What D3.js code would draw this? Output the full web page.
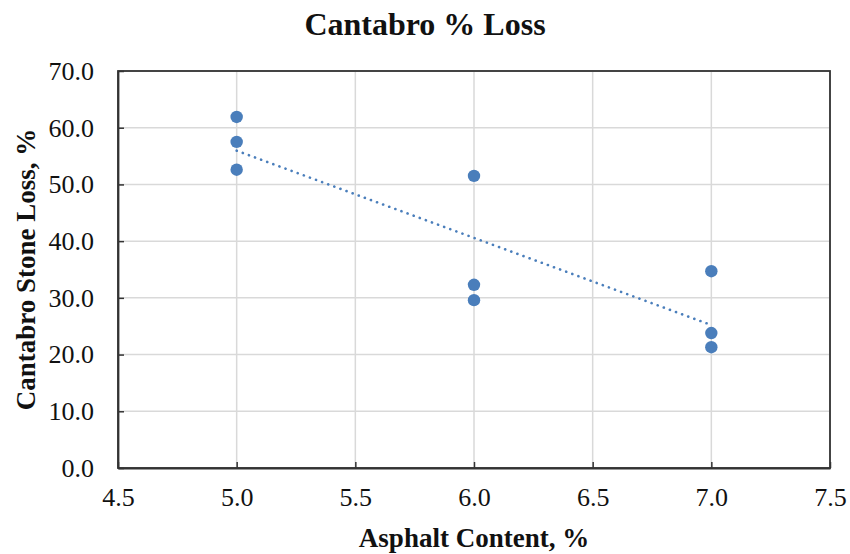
<!DOCTYPE html>
<html><head><meta charset="utf-8">
<script src="https://cdn.jsdelivr.net/npm/d3@7/dist/d3.min.js"></script>
<style>body{margin:0;background:#fff} text{font-family:'Liberation Serif','Times New Roman',serif !important}</style>
</head><body><svg id="c" width="850" height="554"></svg>
<script>
const asphaltContent = [5.0, 5.0, 5.0, 6.0, 6.0, 6.0, 7.0, 7.0, 7.0];
const stoneLoss = [61.9, 57.5, 52.6, 51.5, 32.3, 29.6, 34.7, 23.8, 21.3];
const xTicks = [4.5, 5.0, 5.5, 6.0, 6.5, 7.0, 7.5];
const yTicks = [0, 10, 20, 30, 40, 50, 60, 70];
const title = "Cantabro % Loss";
const xLabel = "Asphalt Content, %";
const yLabel = "Cantabro Stone Loss, %";

const svg = d3.select("#c");
const L = 118, R = 830, T = 71, B = 468;
const x = d3.scaleLinear().domain([4.5, 7.5]).range([L, R]);
const y = d3.scaleLinear().domain([0, 70]).range([B, T]);
const font = "'Liberation Serif','Times New Roman',serif";
const col = "#4a7ebb";

// grid
svg.append("g").selectAll("line").data(yTicks).join("line")
  .attr("x1", L).attr("x2", R).attr("y1", d => y(d)).attr("y2", d => y(d))
  .attr("stroke", "#d9d9d9").attr("stroke-width", 1.5);
svg.append("g").selectAll("line").data(xTicks).join("line")
  .attr("y1", T).attr("y2", B).attr("x1", d => x(d)).attr("x2", d => x(d))
  .attr("stroke", "#d9d9d9").attr("stroke-width", 1.5);

// axes
const xa = svg.append("g").attr("transform", `translate(0,${B})`)
  .call(d3.axisBottom(x).tickValues(xTicks).tickFormat(d3.format(".1f")).tickSizeInner(-6).tickSizeOuter(0).tickPadding(20));
const ya = svg.append("g").attr("transform", `translate(${L},0)`)
  .call(d3.axisLeft(y).tickValues(yTicks).tickFormat(d3.format(".1f")).tickSizeInner(-6).tickSizeOuter(0).tickPadding(24));
[xa, ya].forEach(g => {
  g.attr("font-family", null).attr("font-size", null);
  g.select(".domain").attr("stroke", "#333").attr("stroke-width", 1.8);
  g.selectAll(".tick line").attr("stroke", "#333").attr("stroke-width", 1.5);
  g.selectAll(".tick text").style("font-family", font).style("font-size", "26px").attr("fill", "#111");
});
// frame top/right
svg.append("rect").attr("x", L).attr("y", T).attr("width", R - L).attr("height", B - T)
  .attr("fill", "none").attr("stroke", "#333").attr("stroke-width", 1.8);

// trendline (least squares from data)
const mx = d3.mean(asphaltContent), my = d3.mean(stoneLoss);
const slope = d3.sum(asphaltContent, (v, i) => (v - mx) * (stoneLoss[i] - my)) / d3.sum(asphaltContent, v => (v - mx) ** 2);
const icpt = my - slope * mx;
const xr = d3.extent(asphaltContent);
svg.append("line")
  .attr("x1", x(xr[0])).attr("y1", y(icpt + slope * xr[0]))
  .attr("x2", x(xr[1])).attr("y2", y(icpt + slope * xr[1]))
  .attr("stroke", col).attr("stroke-width", 2.6).attr("stroke-linecap", "round")
  .attr("stroke-dasharray", "0.1,6.4");

// points
svg.append("g").selectAll("circle").data(asphaltContent).join("circle")
  .attr("cx", d => x(d)).attr("cy", (d, i) => y(stoneLoss[i])).attr("r", 6.2)
  .attr("fill", col);

// texts
svg.append("text").attr("x", 425).attr("y", 35).attr("text-anchor", "middle")
  .style("font-family", font).attr("font-weight", "bold").style("font-size", "32px").attr("fill", "#111").text(title);
svg.append("text").attr("x", 474).attr("y", 547).attr("text-anchor", "middle")
  .style("font-family", font).attr("font-weight", "bold").style("font-size", "27px").attr("fill", "#111").text(xLabel);
svg.append("text").attr("transform", `translate(35,${(T + B) / 2}) rotate(-90)`).attr("text-anchor", "middle")
  .style("font-family", font).attr("font-weight", "bold").style("font-size", "27px").attr("fill", "#111").text(yLabel);
</script></body></html>
